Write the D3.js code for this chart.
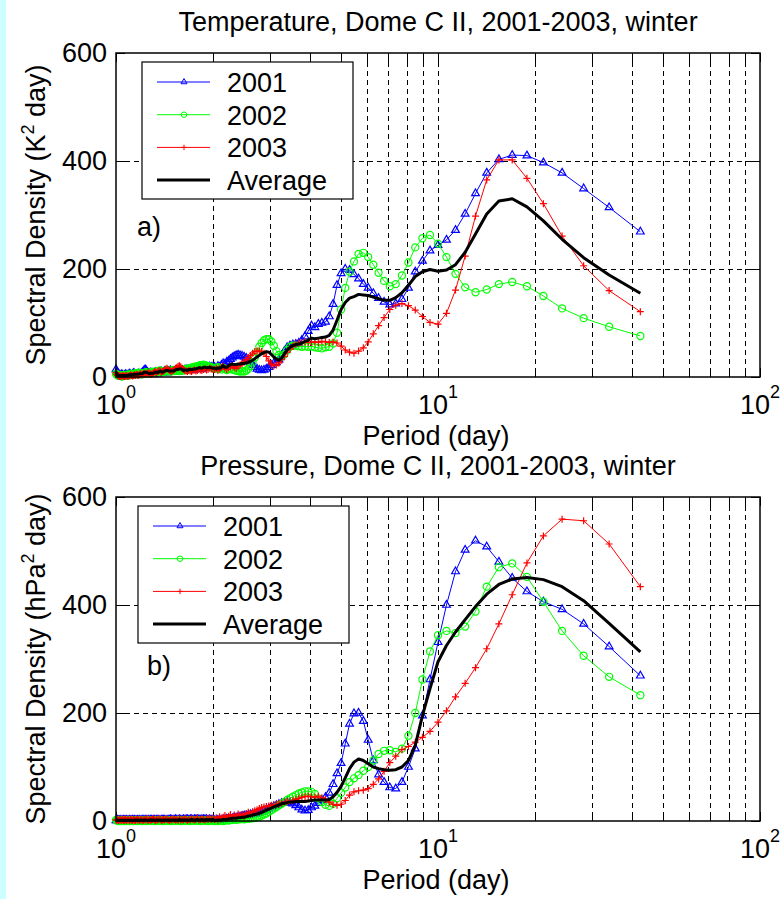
<!DOCTYPE html>
<html>
<head>
<meta charset="utf-8">
<script src="https://cdn.jsdelivr.net/npm/d3@7"></script>
<style>
body { margin: 0; background: #fff; }
svg text { font-family: "Liberation Sans", Arial, Helvetica, sans-serif; fill: #000; }
</style>
</head>
<body>
<svg width="784" height="899"></svg>
<script>
// periodogram of a 170 day record: harmonic k -> period 170/k (k = 170 ... 4)
var recordDays = 170;
var harmonics = d3.range(170, 3, -1);
var periods = harmonics.map(function(k) { return recordDays / k; });

var yTicks = [0, 200, 400, 600];
var xLabelTicks = [1, 10, 100];
var xLabelExp = ["0", "1", "2"];
var seriesNames = ["2001", "2002", "2003", "Average"];

// ---- temperature (K^2 day), periods ascending ----
var temp2001 = [
  14,10,7,5,4,3,4,5,3,2, 3,5,4,3,4,5,6,4,3,5, 7,6,4,3,5,6,5,4,6,8, 10,12,14,12,9,7,6,8,7,6,
  5,7,9,8,6,7,9,10,8,9, 11,10,8,9,11,12,10,9,10,12, 11,10,12,13,12,11,13,14,12,13, 14,15,13,14,16,15,16,17,15,18,
  17,18,17,19,18,18,
  18,15,20,18,22,25,24,28,30,33, 36,38,40,41,40,39,37,35,30,26, 22,18,15,13,12,13,15,18,22,25, 27,32,40,48,55,58,60,61,63,68, 75,85,
  95,92,98,100,102,112,135,170,192,200,198,190,182,172,165,155,146,139,134,136,144,
  165,195,215,234,244,254,272,302,340,378,403,411,410,397,378,349,314,269
];
var temp2002 = [
  6,4,3,2,3,4,2,1,2,3, 4,3,2,3,5,4,3,4,6,5, 4,5,7,6,5,6,8,7,6,5, 6,7,8,9,8,7,6,7,9,10,
  9,8,10,11,9,10,12,11,10,9, 10,11,13,12,11,10,12,13,11,12, 13,12,11,13,14,12,13,15,14,16, 17,16,18,19,18,20,21,22,21,23,
  22,21,20,19,18,17,
  17,15,18,16,14,17,15,13,15,16, 14,13,12,11,10,11,10,12,15,20, 27,36,46,56,63,68,70,70,66,58, 48,41,38,42,50,56,58,58,57,56, 57,56,
  57,55,54,53,55,56,62,82,125,165,195,214,228,230,222,208,193,178,168,172,188,
  212,240,257,263,247,222,191,166,157,162,172,176,168,150,127,109,93,76
];
var temp2003 = [
  8,5,3,2,1,2,1,2,3,2, 1,2,3,2,1,2,3,4,3,2, 3,4,3,5,4,3,4,6,5,4, 6,7,6,5,7,8,7,6,5,6,
  8,10,9,8,10,12,11,9,10,11, 13,15,16,14,12,11,10,12,14,16, 18,20,21,19,16,14,12,11,10,12, 11,10,12,13,11,12,14,13,12,14,
  15,13,14,16,15,14,
  14,16,12,15,18,20,16,14,17,19, 21,18,16,20,22,25,28,32,36,40, 44,47,48,48,47,44,38,30,24,21, 22,26,32,38,46,52,57,61,63,64, 65,64,
  64,65,64,66,65,64,65,63,57,50,46,44,48,54,65,80,95,110,125,133,136,
  132,124,112,101,98,118,161,224,298,365,402,402,368,321,261,206,160,121
];
var tempAvg = [
  9,6,4,3,3,3,2,3,3,2, 3,3,3,3,3,4,4,4,4,4, 5,5,5,5,5,5,6,6,6,6, 7,9,9,9,8,7,6,7,7,7,
  7,8,9,9,8,10,11,10,9,10, 11,12,12,12,11,11,11,11,12,13, 14,14,15,15,14,12,13,13,12,14, 14,14,14,15,15,16,17,17,16,18,
  18,17,17,18,17,16,
  16,15,17,16,18,21,18,18,21,23, 24,23,23,24,24,25,25,26,27,29, 31,34,37,40,43,45,47,46,42,37, 33,31,35,43,50,55,58,60,61,63, 66,68,
  72,71,72,73,74,77,87,105,125,138,146,149,153,152,151,148,145,142,142,147,156,
  170,186,195,199,196,198,208,231,265,302,326,330,315,289,255,221,189,155
];

// ---- pressure (hPa^2 day), periods ascending ----
var pres2001 = [
  1,1,2,1,1,2,1,1,1,2, 1,1,2,1,1,1,2,1,1,2, 1,2,1,1,2,1,2,1,1,2, 2,1,2,2,1,2,1,2,2,1,
  2,2,1,2,2,2,1,2,2,2, 2,1,2,2,2,3,2,2,2,3, 2,2,3,2,2,3,2,3,3,2, 3,3,2,3,3,3,3,2,3,3,
  3,3,2,3,2,2,
  1,1,2,2,2,3,3,4,4,5, 5,6,6,7,8,9,10,10,11,12, 13,13,14,15,17,19,21,23,25,27, 29,31,33,34,35,34,32,29,25,21, 19,20,
  25,28,33,38,44,52,68,88,107,143,180,199,200,185,150,112,86,72,62,60,72,
  100,134,195,262,331,400,462,502,519,508,480,450,425,406,392,365,323,269
];
var pres2002 = [
  2,1,1,0,1,1,0,1,1,0, 1,1,0,1,1,1,0,1,1,1, 0,1,1,1,0,1,1,1,1,0, 1,1,1,0,1,1,1,1,1,1,
  1,0,1,1,1,1,1,1,0,1, 1,1,1,1,1,0,1,1,1,1, 1,1,1,0,1,1,1,1,1,1, 0,1,1,1,1,1,1,0,1,1,
  1,1,0,1,1,1,
  0,1,0,1,1,0,1,2,1,2, 2,3,2,3,3,4,3,4,4,5, 5,6,7,8,10,12,14,17,20,23, 26,29,32,35,39,42,45,48,51,53, 55,55,
  54,50,42,35,30,28,32,42,52,62,72,79,85,93,100,112,124,130,131,128,134,
  158,200,262,314,344,352,348,360,388,434,470,477,452,406,352,306,267,233
];
var pres2003 = [
  2,1,3,1,2,4,1,2,3,1, 2,3,1,2,4,2,1,3,2,1, 3,2,1,4,2,3,1,2,3,2, 1,3,2,4,2,1,3,2,2,3,
  4,2,1,3,2,4,3,1,2,3, 2,4,3,2,1,3,2,4,3,2, 3,1,4,2,3,2,4,3,1,3, 2,4,3,2,3,5,2,3,4,3,
  2,4,3,5,3,4,
  3,6,2,8,4,7,10,5,9,12, 6,11,8,13,10,12,9,14,16,13, 17,19,21,23,25,26,27,28,29,30, 31,32,33,35,36,37,38,40,42,44, 45,46,
  45,44,46,43,40,35,31,29,31,38,48,54,56,57,60,68,78,92,108,120,132,
  138,146,155,166,183,204,230,255,284,319,365,419,478,528,559,556,513,434
];
var presAvg = [
  2,1,2,1,1,2,1,1,2,1, 1,2,1,1,2,1,1,2,1,1, 1,2,1,2,1,2,1,1,2,1, 1,2,2,2,1,1,2,2,2,2,
  2,1,1,2,2,2,2,1,1,2, 2,2,2,2,1,2,2,2,2,2, 2,1,3,1,2,2,2,2,2,2, 2,3,2,2,2,3,2,2,3,2,
  2,3,2,3,2,3,
  1,1,2,2,2,3,3,3,4,4, 5,5,5,6,6,7,7,8,9,10, 11,12,13,14,16,18,20,22,24,26, 28,30,32,33,34,35,35,36,36,36, 36,37,
  38,39,39,39,39,40,45,53,64,80,97,109,115,112,106,100,97,95,94,95,100,
  112,140,195,245,295,325,350,373,397,420,438,448,451,447,434,408,366,313
];

var svg = d3.select("svg");

svg.append("rect").attr("x", 0).attr("y", 0).attr("width", 784).attr("height", 899).attr("fill", "#fff");
svg.append("rect").attr("x", 0).attr("y", 0).attr("width", 6).attr("height", 899).attr("fill", "#ccffff");

// '+' marker like matlab
var plusSymbol = {
  draw: function(ctx, size) {
    var r = Math.sqrt(size) / 2;
    ctx.moveTo(-r, 0); ctx.lineTo(r, 0);
    ctx.moveTo(0, -r); ctx.lineTo(0, r);
  }
};

var styles = [
  { color: "#0000ff", width: 1, symbol: d3.symbolTriangle, size: 26 },
  { color: "#00ff00", width: 1, symbol: d3.symbolCircle, size: 40 },
  { color: "#ff0000", width: 1, symbol: plusSymbol, size: 49 },
  { color: "#000000", width: 3, symbol: null }
];

function drawPanel(cfg) {
  var left = 116, right = 760, top = cfg.top, bottom = cfg.top + 324;

  var x = d3.scaleLog().domain([1, 100]).range([left, right]);
  var y = d3.scaleLinear().domain([0, 600]).range([bottom, top]);
  var px = function(v) { return Math.round(v) + 0.5; };

  var g = svg.append("g");
  var logTicks = x.ticks();

  // grid
  g.selectAll(".vgrid")
    .data(logTicks.filter(function(d) { return d > 1 && d < 100; }))
    .enter().append("line")
    .attr("x1", function(d) { return px(x(d)); }).attr("x2", function(d) { return px(x(d)); })
    .attr("y1", top).attr("y2", bottom)
    .attr("stroke", "#000").attr("stroke-width", 1).attr("stroke-dasharray", "5,4")
    .attr("shape-rendering", "crispEdges");
  g.selectAll(".hgrid")
    .data(yTicks.slice(1, -1))
    .enter().append("line")
    .attr("x1", left).attr("x2", right)
    .attr("y1", function(d) { return px(y(d)); }).attr("y2", function(d) { return px(y(d)); })
    .attr("stroke", "#000").attr("stroke-width", 1).attr("stroke-dasharray", "5,4")
    .attr("shape-rendering", "crispEdges");

  // inward ticks on all four sides
  var tl = 9;
  logTicks.forEach(function(d) {
    g.append("line").attr("x1", px(x(d))).attr("x2", px(x(d))).attr("y1", bottom).attr("y2", bottom - tl).attr("stroke", "#000");
    g.append("line").attr("x1", px(x(d))).attr("x2", px(x(d))).attr("y1", top).attr("y2", top + tl).attr("stroke", "#000");
  });
  yTicks.forEach(function(d) {
    g.append("line").attr("x1", left).attr("x2", left + tl).attr("y1", px(y(d))).attr("y2", px(y(d))).attr("stroke", "#000");
    g.append("line").attr("x1", right).attr("x2", right - tl).attr("y1", px(y(d))).attr("y2", px(y(d))).attr("stroke", "#000");
  });

  // data
  var line = d3.line()
    .x(function(d) { return x(d[0]); })
    .y(function(d) { return y(d[1]); });

  cfg.series.forEach(function(vals, i) {
    var st = styles[i];
    var pts = periods.map(function(p, j) { return [p, vals[j]]; });
    g.append("path")
      .datum(pts)
      .attr("d", line)
      .attr("fill", "none")
      .attr("stroke", st.color)
      .attr("stroke-width", st.width)
      .attr("stroke-linejoin", "round");
    if (st.symbol) {
      g.selectAll(".m" + i)
        .data(pts)
        .enter().append("path")
        .attr("transform", function(d) { return "translate(" + x(d[0]) + "," + y(d[1]) + ")"; })
        .attr("d", d3.symbol().type(st.symbol).size(st.size))
        .attr("fill", "none")
        .attr("stroke", st.color)
        .attr("stroke-width", 1.2);
    }
  });

  // frame
  g.append("rect")
    .attr("x", left).attr("y", top).attr("width", right - left).attr("height", bottom - top)
    .attr("fill", "none").attr("stroke", "#000").attr("stroke-width", 1.5);

  // tick labels
  yTicks.forEach(function(d) {
    g.append("text").attr("x", 107).attr("y", y(d) + 9)
      .attr("text-anchor", "end").style("font-size", "27px").text(d);
  });
  xLabelTicks.forEach(function(d, i) {
    var t = g.append("text").attr("x", x(d)).attr("y", bottom + 37)
      .attr("text-anchor", "middle").style("font-size", "27px");
    t.append("tspan").text("10");
    t.append("tspan").attr("dy", -16).style("font-size", "18px").text(xLabelExp[i]);
  });

  // titles
  g.append("text").attr("x", 438).attr("y", top - 22)
    .attr("text-anchor", "middle").style("font-size", "27px").text(cfg.title);
  g.append("text").attr("x", 436).attr("y", bottom + 68)
    .attr("text-anchor", "middle").style("font-size", "27px").text("Period (day)");

  var yl = g.append("text")
    .attr("transform", "translate(45," + ((top + bottom) / 2) + ") rotate(-90)")
    .attr("text-anchor", "middle").style("font-size", "27px");
  yl.append("tspan").text(cfg.ylabel[0]);
  yl.append("tspan").attr("dy", -11).style("font-size", "18px").text("2");
  yl.append("tspan").attr("dy", 11).text(cfg.ylabel[1]);

  g.append("text").attr("x", cfg.tag[1]).attr("y", cfg.tag[2])
    .style("font-size", "27px").text(cfg.tag[0]);

  // legend
  var L = cfg.legend[0], T = cfg.legend[1];
  var lg = g.append("g");
  lg.append("rect").attr("x", L).attr("y", T).attr("width", 211).attr("height", 137)
    .attr("fill", "#fff").attr("stroke", "#000").attr("stroke-width", 1.2);
  seriesNames.forEach(function(name, i) {
    var st = styles[i];
    var ry = T + 20 + i * 32.7;
    lg.append("line").attr("x1", L + 15).attr("x2", L + 68).attr("y1", ry).attr("y2", ry)
      .attr("stroke", st.color).attr("stroke-width", st.width);
    if (st.symbol) {
      lg.append("path").attr("transform", "translate(" + (L + 42) + "," + ry + ")")
        .attr("d", d3.symbol().type(st.symbol).size(st.size * 0.6))
        .attr("fill", "none").attr("stroke", st.color);
    }
    lg.append("text").attr("x", L + 85).attr("y", ry + 10)
      .style("font-size", "27px").text(name);
  });
}

drawPanel({
  top: 53,
  title: "Temperature, Dome C II, 2001-2003, winter",
  ylabel: ["Spectral Density (K", " day)"],
  series: [temp2001, temp2002, temp2003, tempAvg],
  legend: [142, 62],
  tag: ["a)", 137, 236]
});

drawPanel({
  top: 497,
  title: "Pressure, Dome C II, 2001-2003, winter",
  ylabel: ["Spectral Density (hPa", " day)"],
  series: [pres2001, pres2002, pres2003, presAvg],
  legend: [138, 506],
  tag: ["b)", 147, 675]
});
</script>
</body>
</html>
